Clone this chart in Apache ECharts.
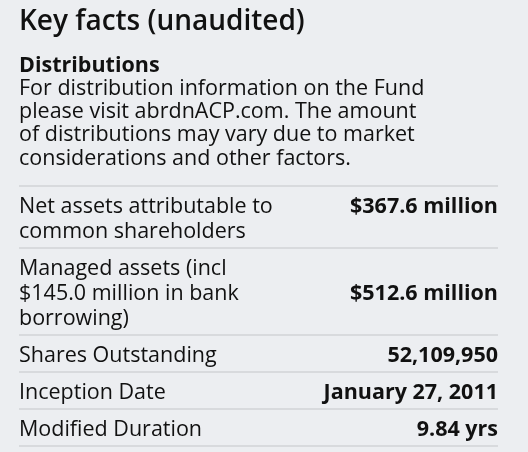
<!DOCTYPE html>
<html>
<head>
<meta charset="utf-8">
<script src="https://cdn.jsdelivr.net/npm/echarts@6/dist/echarts.min.js"></script>
<style>
html, body { margin: 0; padding: 0; background: #eceef1; }
#main { width: 528px; height: 452px; }
</style>
</head>
<body>
<div id="main"></div>
<script>
var title = 'Key facts (unaudited)';
var introHead = 'Distributions';
var introText = 'For distribution information on the Fund\nplease visit abrdnACP.com. The amount\nof distributions may vary due to market\nconsiderations and other factors.';
var labels = [
    'Net assets attributable to\ncommon shareholders',
    'Managed assets (incl\n$145.0 million in bank\nborrowing)',
    'Shares Outstanding',
    'Inception Date',
    'Modified Duration'
];
var values = ['$367.6 million', '$512.6 million', '52,109,950', 'January 27, 2011', '9.84 yrs'];
var lineCounts = [2, 3, 1, 1, 1];
var valueLine = [0, 1, 0, 0, 0];

var chart = echarts.init(document.getElementById('main'));
var font = '"Open Sans", sans-serif';
var lh = 25;
var left = 19, right = 498;
var els = [];

els.push({ type: 'text', x: left, y: 22, style: { text: title, font: '600 28px ' + font, fill: '#111', verticalAlign: 'middle' } });
els.push({ type: 'text', x: left, y: 66, style: { text: introHead, font: 'bold 21.5px ' + font, fill: '#111', verticalAlign: 'middle' } });
els.push({ type: 'text', x: left, y: 77, style: { text: introText, font: '21.5px ' + font, lineHeight: 23.3, fill: '#111' } });

var y = 186;
for (var i = 0; i < labels.length; i++) {
    els.push({ type: 'line', shape: { x1: left, y1: y, x2: right, y2: y }, style: { stroke: '#c4c6c9', lineWidth: 1.2 } });
    var h = lineCounts[i] * lh + 12;
    els.push({ type: 'text', x: left, y: y + 8, style: { text: labels[i], font: '21.5px ' + font, lineHeight: lh, fill: '#111' } });
    els.push({ type: 'text', x: right, y: y + 8 + lh * valueLine[i] + lh / 2, style: { text: values[i], font: 'bold 21.5px ' + font, fill: '#111', align: 'right', verticalAlign: 'middle' } });
    y += h;
}
els.push({ type: 'line', shape: { x1: left, y1: y, x2: right, y2: y }, style: { stroke: '#c4c6c9', lineWidth: 1.2 } });

chart.setOption({ backgroundColor: '#eceef1', graphic: els });
</script>
</body>
</html>
